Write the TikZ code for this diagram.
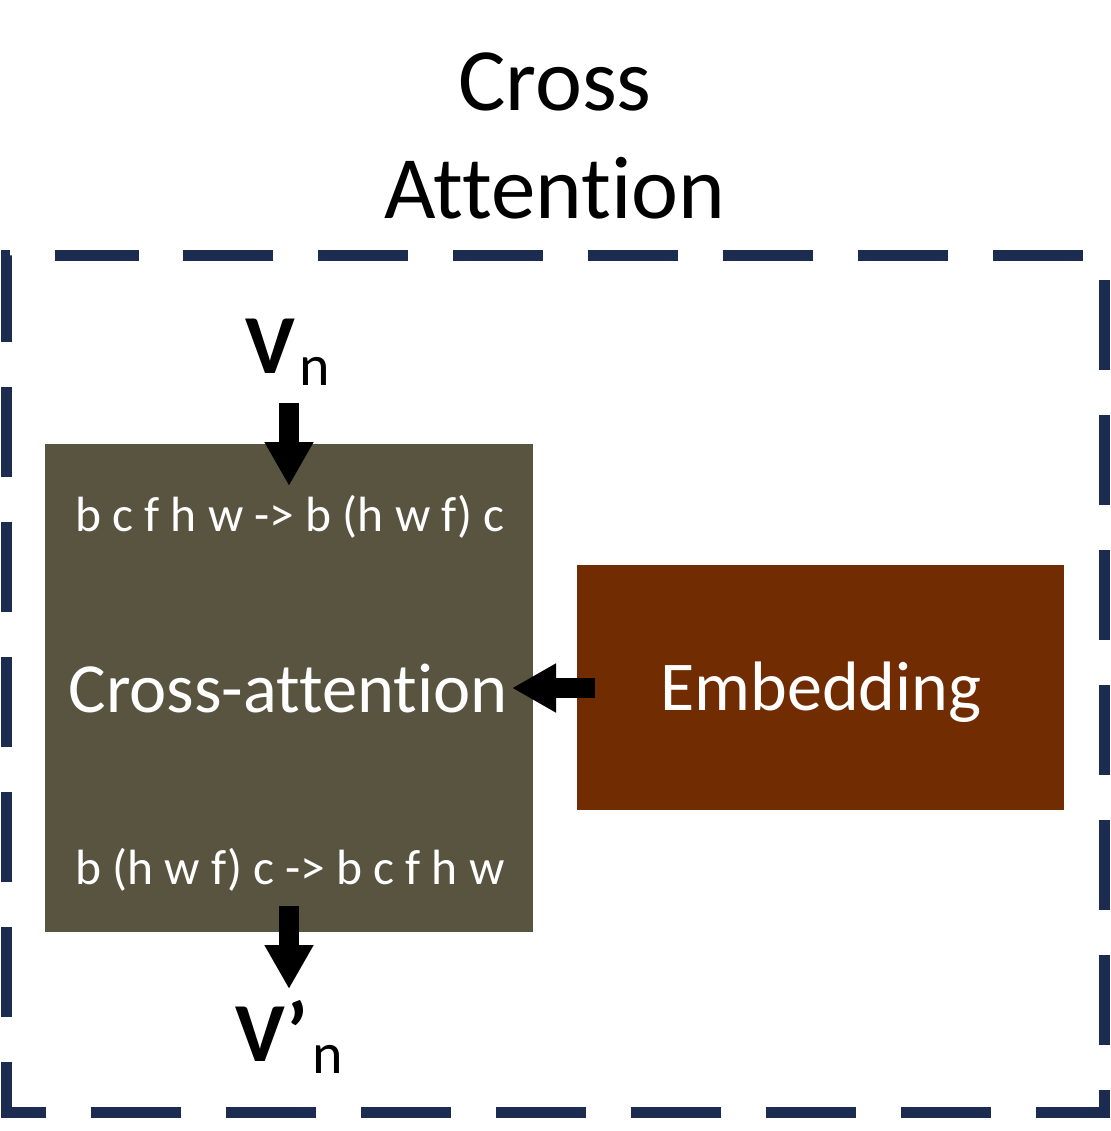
\documentclass[tikz,border=0pt]{standalone}
\usepackage{fontspec}
\setmainfont{Carlito}[Ligatures={NoCommon,NoContextual}]
\usetikzlibrary{arrows.meta}
\definecolor{frame}{HTML}{1B2C50}
\definecolor{boxgray}{HTML}{595440}
\definecolor{boxbrown}{HTML}{722C02}
\tikzset{
  bigarrow/.style={line width=20pt,-{Triangle[length=44pt,width=46pt]}},
  whitetext/.style={text=white,inner sep=0pt},
}
\begin{document}
\begin{tikzpicture}[x=1pt,y=-1pt]
\useasboundingbox (0,0) rectangle (1110,1131);
\node[align=center,font=\fontsize{89}{108}\selectfont,inner sep=0pt] (title) at (555,136) {Cross\\Attention};
\draw[frame,line width=11pt,dash pattern=on 90pt off 45pt,dash phase=-44pt] (139,256) -- (1104,256) -- (1104,1112) -- (6,1112) -- (6,256) -- cycle;
\node[fill=boxgray,minimum width=488pt,minimum height=488pt,inner sep=0pt,anchor=north west] (ca) at (45,444) {};
\node[fill=boxbrown,minimum width=487pt,minimum height=245pt,inner sep=0pt,anchor=north west] (emb) at (577,565) {};
\node[whitetext,font=\fontsize{70.5}{80}\selectfont] (catext) at (288,688) {Cross-attention};
\node[whitetext,font=\fontsize{70}{80}\selectfont] (embtext) at (821,692) {Embedding};
\node[whitetext,font=\fontsize{49.5}{54}\selectfont] (r1) at (290,517) {b c f h w -> b (h w f) c};
\node[whitetext,font=\fontsize{49.5}{54}\selectfont] (r2) at (290,870) {b (h w f) c -> b c f h w};
\node[inner sep=0pt,font=\fontsize{84}{90}\selectfont] (vn) at (288,352) {\textbf{V}\kern4pt\raisebox{-0.3ex}{\fontsize{58}{60}\selectfont n}};
\node[inner sep=0pt,font=\fontsize{84}{90}\selectfont] (vpn) at (289,1037) {\textbf{V’}\kern4pt\raisebox{-0.3ex}{\fontsize{58}{60}\selectfont n}};
\coordinate (a1s) at (289,403);
\coordinate (a1e) at (289,486);
\coordinate (a2s) at (289,906);
\coordinate (a2e) at (289,989);
\coordinate (a3s) at (595,688);
\coordinate (a3e) at (512,688);
\draw[bigarrow] (a1s) -- (a1e);
\draw[bigarrow] (a2s) -- (a2e);
\draw[bigarrow] (a3s) -- (a3e);
\end{tikzpicture}
\end{document}
